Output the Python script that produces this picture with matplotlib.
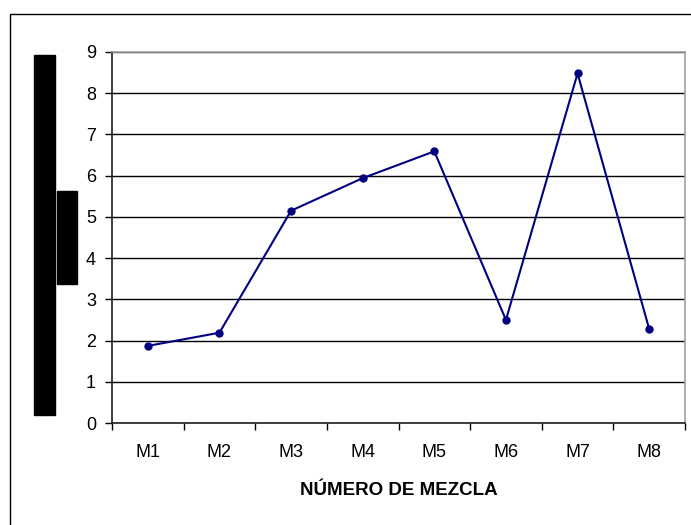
import matplotlib.pyplot as plt
from matplotlib.patches import Rectangle

# data
mezclas = ["M1", "M2", "M3", "M4", "M5", "M6", "M7", "M8"]
valores = [1.87, 2.19, 5.15, 5.94, 6.59, 2.50, 8.48, 2.28]
y_ticks = list(range(0, 10))

plt.rcParams['font.family'] = ['Liberation Sans', 'DejaVu Sans']

W, H = 691, 525
fig = plt.figure(figsize=(W / 100, H / 100), dpi=100)

# outer chart border (runs off the right/bottom edge)
fig.patches.append(Rectangle((10 / W, -0.1), 2.0, 1 - 14 / H + 0.1,
                             transform=fig.transFigure, fill=False,
                             edgecolor='black', linewidth=1.0))

# redaction boxes where the y label was
fig.patches.append(Rectangle((34 / W, 1 - 415 / H), 21 / W, 360 / H,
                             transform=fig.transFigure, color='black'))
fig.patches.append(Rectangle((57 / W, 1 - 284 / H), 20 / W, 93 / H,
                             transform=fig.transFigure, color='black'))

left, right, top, bottom = 112, 685, 52, 423
ax = fig.add_axes([left / W, 1 - bottom / H, (right - left) / W, (bottom - top) / H])

x = list(range(len(mezclas)))
ax.plot(x, valores, color='#000080', linewidth=1.5, marker='o', markersize=5)

ax.set_xlim(-0.5, len(mezclas) - 0.5)
ax.set_ylim(0, 9)
ax.set_yticks(y_ticks)
ax.set_yticklabels([str(t) for t in y_ticks], fontsize=13)

# category ticks sit between categories, labels at centers
ax.set_xticks([i - 0.5 for i in range(len(mezclas) + 1)])
ax.set_xticklabels([])
ax.set_xticks(x, minor=True)
ax.set_xticklabels(mezclas, minor=True, fontsize=13)
ax.tick_params(axis='x', which='minor', length=0, pad=15)
ax.tick_params(axis='x', which='major', length=5, width=1, direction='out')
ax.tick_params(axis='y', length=5, width=1, direction='out', pad=6.5)

ax.yaxis.grid(True, color='black', linewidth=1)
ax.set_axisbelow(True)

for s in ['top', 'right']:
    ax.spines[s].set_color('#a0a0a0')
    ax.spines[s].set_linewidth(1.2)
for s in ['left', 'bottom']:
    ax.spines[s].set_color('#202020')
    ax.spines[s].set_linewidth(1.2)

ax.set_xlabel('NÚMERO DE MEZCLA', fontsize=13.5, fontweight='bold', labelpad=15)

fig.savefig('out.png', dpi=100)
